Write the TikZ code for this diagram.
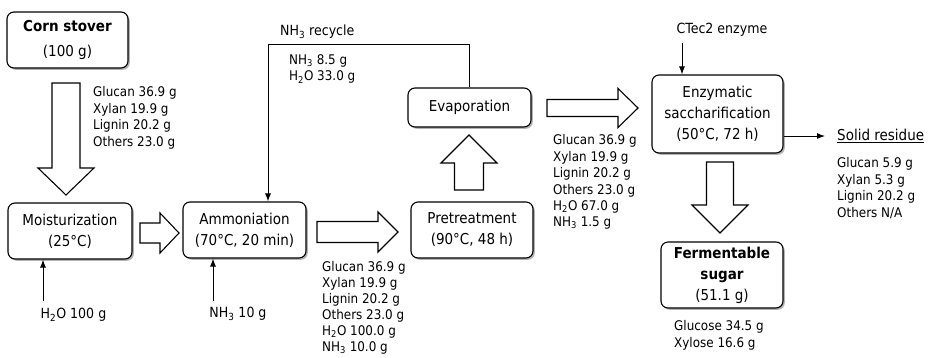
\documentclass[tikz,border=0pt]{standalone}
\usepackage{fontspec}
\setmainfont{DejaVu Sans Condensed}
\usetikzlibrary{shadows,arrows.meta}
\newcommand\hArrR[6]{\draw[hol] (#1,#4-#5) -- (#2,#4-#5) -- (#2,#4-#6) -- (#3,#4) -- (#2,#4+#6) -- (#2,#4+#5) -- (#1,#4+#5) -- cycle;}
\newcommand\hArrV[6]{\draw[hol] (#1-#5,#2) -- (#1-#5,#3) -- (#1-#6,#3) -- (#1,#4) -- (#1+#6,#3) -- (#1+#5,#3) -- (#1+#5,#2) -- cycle;}
\begin{document}
\begin{tikzpicture}[x=1pt,y=-1pt,
  box/.style={draw, line width=1.1pt, rounded corners=7pt, fill=white, align=center, inner sep=0pt,
    drop shadow={shadow xshift=1.8pt, shadow yshift=-1.8pt, fill=black!50, opacity=0.6},
    font=\fontsize{15}{21}\selectfont},
  lbl/.style={inner sep=0pt, align=left, anchor=north west, font=\fontsize{13.3}{16.4}\selectfont},
  hol/.style={draw, line width=1.1pt, fill=white, line join=miter},
  tip/.style={-{Latex[length=8pt,width=6pt]}, line width=1pt}]
\useasboundingbox (0,0) rectangle (934,357);

% boxes
\node[box, minimum width=121pt, minimum height=56pt, font=\fontsize{15}{25}\selectfont] (corn) at (67.5,40) {\textbf{Corn stover}\\(100 g)};
\node[box, minimum width=124pt, minimum height=56pt] (moist) at (70,231) {Moisturization\\(25°C)};
\node[box, minimum width=123pt, minimum height=56pt] (ammon) at (244.5,230) {Ammoniation\\(70°C, 20 min)};
\node[box, minimum width=122pt, minimum height=56pt] (pret) at (472,230) {Pretreatment\\(90°C, 48 h)};
\node[box, minimum width=123pt, minimum height=39pt] (evap) at (469.5,107.5) {Evaporation};
\node[box, minimum width=131pt, minimum height=78pt] (enz) at (717.5,114) {Enzymatic\\saccharification\\(50°C, 72 h)};
\node[box, minimum width=122pt, minimum height=66pt] (ferm) at (722,275) {\textbf{Fermentable}\\\textbf{sugar}\\(51.1 g)};

% hollow arrows
\hArrV{66}{83}{168}{195}{14}{28}
\hArrR{140}{160}{179}{233}{10}{20}
\hArrR{317}{378}{398}{232}{10.5}{20}
\hArrV{469}{190}{163}{135}{14.5}{28}
\hArrR{547}{618}{638}{108}{8.5}{19.5}
\hArrV{720}{162}{205}{233}{13.5}{28}

% labels
\node[lbl] (l1) at (93,86.5) {Glucan 36.9 g\\Xylan 19.9 g\\Lignin 20.2 g\\Others 23.0 g};
\node[lbl, font=\fontsize{13.3}{16.1}\selectfont] (l2) at (322,261) {Glucan 36.9 g\\Xylan 19.9 g\\Lignin 20.2 g\\Others 23.0 g\\H\textsubscript{2}O 100.0 g\\NH\textsubscript{3} 10.0 g};
\node[lbl] (l3) at (553,134.5) {Glucan 36.9 g\\Xylan 19.9 g\\Lignin 20.2 g\\Others 23.0 g\\H\textsubscript{2}O 67.0 g\\NH\textsubscript{3} 1.5 g};
\node[lbl] (l4) at (837,157.5) {Glucan 5.9 g\\Xylan 5.3 g\\Lignin 20.2 g\\Others N/A};
\node[lbl] (l5) at (674,320.5) {Glucose 34.5 g\\Xylose 16.6 g};
\node[lbl] (l6) at (289,54.5) {NH\textsubscript{3} 8.5 g\\H\textsubscript{2}O 33.0 g};
\node[lbl, anchor=west, font=\fontsize{14}{16}\selectfont] (rec) at (280,32) {NH\textsubscript{3} recycle};
\node[lbl, anchor=center, font=\fontsize{14}{16}\selectfont] (ctl) at (722,30) {CTec2 enzyme};
\node[lbl, anchor=west, font=\fontsize{15}{18}\selectfont] (sres) at (837,136) {\underline{Solid residue}};
\node[lbl, anchor=center, font=\fontsize{14}{16}\selectfont] (h2ol) at (73.5,315) {H\textsubscript{2}O 100 g};
\node[lbl, anchor=center, font=\fontsize{14}{16}\selectfont] (nh3l) at (238,314) {NH\textsubscript{3} 10 g};

% thin connectors
\coordinate (h2o) at (43,301);
\draw[tip] (h2o) -- (h2o |- moist.south);
\coordinate (nh3) at (213,301);
\draw[tip] (nh3) -- (nh3 |- ammon.south);
\coordinate (rc) at (268,44);
\draw[tip] (evap.north) |- (rc) -- (rc |- ammon.north);
\coordinate (ct) at (682,43);
\draw[tip] (ct) -- (ct |- enz.north);
\draw[tip, shorten >=12pt] (enz.east |- sres.west) -- (sres.west);
\end{tikzpicture}
\end{document}
